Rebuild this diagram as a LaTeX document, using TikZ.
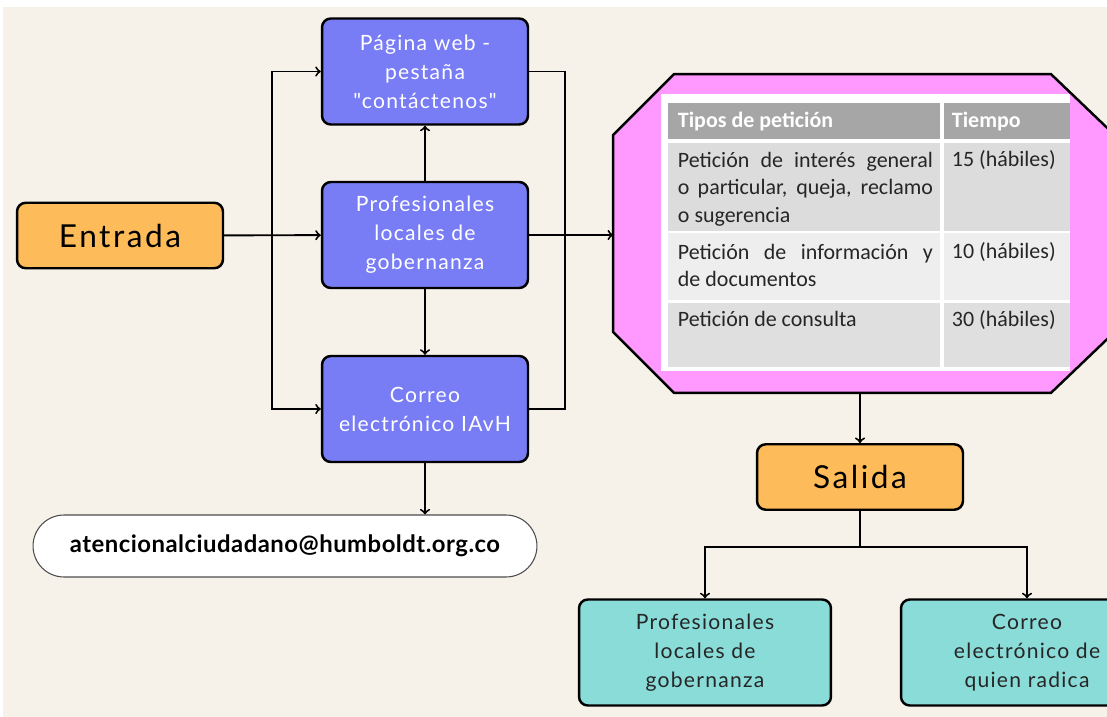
\documentclass[tikz,border=0pt]{standalone}
\usepackage{fontspec}
\setmainfont{Lato}
\newfontfamily\cajafont{Lato}[LetterSpace=6]
\newfontfamily\tituloFont{Lato}[LetterSpace=8]
\newfontfamily\correofont{Lato}[LetterSpace=2]
\newfontfamily\tablafont{Carlito}
\usetikzlibrary{arrows,shapes,positioning,calc}
\definecolor{fondo}{HTML}{F6F2EA}
\definecolor{azul}{HTML}{787CF5}
\definecolor{naranja}{HTML}{FDBB59}
\definecolor{turquesa}{HTML}{8ADCD9}
\definecolor{rosa}{HTML}{FF99FF}
\definecolor{grisT}{HTML}{A6A6A6}
\definecolor{grisA}{HTML}{DCDCDC}
\definecolor{grisB}{HTML}{EEEEEE}
\definecolor{grisC}{HTML}{DFDFDF}
\newcommand{\linea}[1]{\makebox[5.1cm][s]{#1}}
\tikzset{
  caja/.style={draw,line width=1.4pt,rounded corners=5pt,inner sep=0pt,
    minimum width=4.12cm,minimum height=2.12cm,align=center,
    font=\cajafont\fontsize{12}{16.5}\selectfont},
  azulbox/.style={caja,fill=azul,text=white},
  naranjabox/.style={caja,fill=naranja,minimum height=1.31cm,
    font=\tituloFont\fontsize{18}{20}\selectfont},
  turqbox/.style={caja,fill=turquesa,minimum width=5.04cm,text=black!85},
  celda/.style={anchor=base west,inner sep=0pt,text=black!85,
    font=\tablafont\fontsize{12.5}{15.6}\selectfont},
  parrafo/.style={anchor=north west,inner sep=0pt,align=left,text=black!85,
    font=\tablafont\fontsize{12.5}{15.6}\selectfont}
}

\begin{document}
\begin{tikzpicture}[x=0.02cm,y=-0.02cm,>=to,line width=1.1pt]
\useasboundingbox (0,0) rectangle (1107,717);
\fill[fondo] (3,7) rectangle (1107,717);

% bloque de entrada
\node[naranjabox] (entrada) at (120,235.5) {Entrada};
\node[azulbox] (pagina) at (425,71.5) {P\'agina web -\\pesta\~na\\"cont\'actenos"};
\node[azulbox] (prof) at (425,235) {Profesionales\\locales de\\gobernanza};
\node[azulbox] (correo) at (425,409) {Correo\\electr\'onico IAvH};
\node[draw=black!70,line width=0.6pt,fill=white,rounded corners=0.62cm,
  minimum width=10.08cm,minimum height=1.24cm,inner sep=0pt,
  font=\correofont\bfseries\fontsize{13.6}{15}\selectfont] (email) at (285,546)
  {atencionalciudadano@humboldt.org.co};

% tabla de tiempos
\node[minimum width=9.94cm,minimum height=6.34cm,inner sep=0pt] (tabla) at (862.5,233.5) {};
\filldraw[fill=rosa,line width=1.4pt]
  ($(tabla.north west)+(61,0)$) -- ($(tabla.north east)+(-61,0)$)
  -- ($(tabla.north east)+(8,66)$) -- ($(tabla.south east)+(8,-66)$)
  -- ($(tabla.south east)+(-61,0)$) -- ($(tabla.south west)+(61,0)$)
  -- ($(tabla.south west)+(0,-61)$) -- ($(tabla.north west)+(0,61)$) -- cycle;
\fill[white] (661,94) rectangle (1070,371);
\fill[grisT] (668,103) rectangle (940,139);
\fill[grisT] (944,103) rectangle (1070,139);
\fill[grisA] (668,143) rectangle (940,231);
\fill[grisA] (944,143) rectangle (1070,231);
\fill[grisB] (668,233) rectangle (940,300);
\fill[grisB] (944,233) rectangle (1070,300);
\fill[grisC] (668,303) rectangle (940,367);
\fill[grisC] (944,303) rectangle (1070,367);
\node[celda,text=white,font=\tablafont\bfseries\fontsize{12.5}{15.6}\selectfont] (tipos) at (677,127) {Tipos de petici\'on};
\node[celda,text=white,font=\tablafont\bfseries\fontsize{12.5}{15.6}\selectfont] (tiempo) at (951,127) {Tiempo};
\node[parrafo] (fila1) at (677,151) {\linea{Petici\'on de inter\'es general}\\
  \linea{o particular, queja, reclamo}\\o sugerencia};
\node[celda] (t1) at (951,166) {15 (h\'abiles)};
\node[parrafo] (fila2) at (677,243) {\linea{Petici\'on de informaci\'on y}\\de documentos};
\node[celda] (t2) at (951,258) {10 (h\'abiles)};
\node[celda] (fila3) at (677,326) {Petici\'on de consulta};
\node[celda] (t3) at (951,326) {30 (h\'abiles)};

% bloque de salida
\node[naranjabox] (salida) at (860,477) {Salida};
\node[turqbox] (quien1) at (705,652.5) {Profesionales\\locales de\\gobernanza};
\node[turqbox] (quien2) at (1027,652.5) {Correo\\electr\'onico de\\quien radica};

% conectores
\coordinate (busL) at (272,235);
\coordinate (busR) at (565,235);
\coordinate (split) at (860,547);
\draw[->] (entrada) -- (prof);
\draw[<->] (pagina.west) -| (busL) |- (correo.west);
\draw (pagina.east) -| (busR) |- (correo.east);
\draw[->] (prof) -- (pagina);
\draw[->] (prof) -- (correo);
\draw[->] (prof.east) -- (prof.east -| tabla.west);
\draw[->] (correo.south) -- (correo.south |- email.north);
\draw[->] (tabla.south -| salida.north) -- (salida.north);
\draw (salida.south) -- (split);
\draw[->] (split) -| (quien1.north);
\draw[->] (split) -| (quien2.north);
\end{tikzpicture}
\end{document}
